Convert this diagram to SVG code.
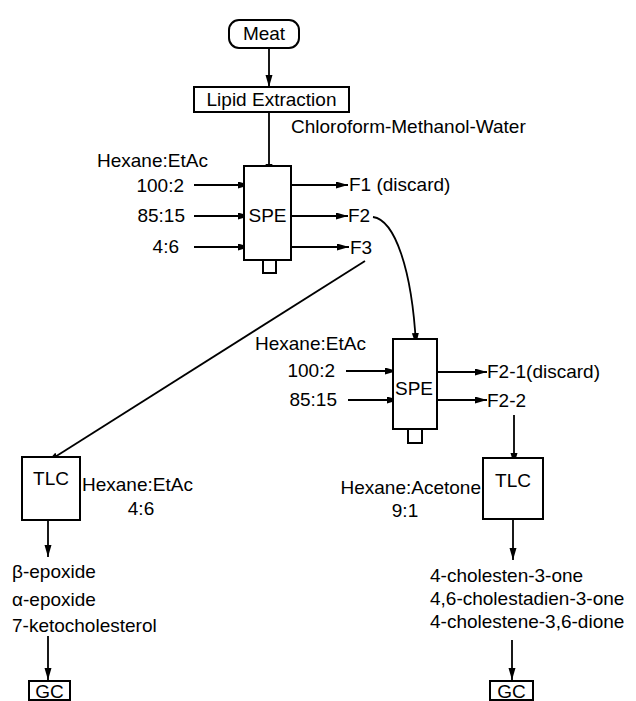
<svg xmlns="http://www.w3.org/2000/svg" width="636" height="701" viewBox="0 0 636 701">
<defs>
<marker id="ah" markerUnits="userSpaceOnUse" markerWidth="13" markerHeight="8" refX="12" refY="3.5" orient="auto">
<path d="M0,0 L12,3.5 L0,7 z" fill="#000"/>
</marker>
<style>
text{font-family:"Liberation Sans",Arial,Helvetica,sans-serif;font-size:19px;fill:#000}
.m{text-anchor:middle}
.e{text-anchor:end}
.box{fill:#fff;stroke:#000;stroke-width:2}
.c{fill:none;stroke:#000;stroke-width:1.8;marker-end:url(#ah)}
</style>
</defs>
<rect width="636" height="701" fill="#fff"/>
<g id="connectors">
<line class="c" x1="269" y1="48" x2="269" y2="87"/>
<line class="c" x1="269" y1="112" x2="269" y2="176"/>
<line class="c" x1="194" y1="185" x2="250" y2="185"/>
<line class="c" x1="194" y1="216" x2="250" y2="216"/>
<line class="c" x1="194" y1="247" x2="250" y2="247"/>
<line class="c" x1="291" y1="185" x2="348" y2="185"/>
<line class="c" x1="291" y1="216" x2="348" y2="216"/>
<line class="c" x1="291" y1="247" x2="349" y2="247"/>
<path class="c" d="M373,217 C395,220 412,270 416,345"/>
<path class="c" d="M365,261 L47,462"/>
<line class="c" x1="346" y1="371" x2="397" y2="371"/>
<line class="c" x1="348" y1="400" x2="399" y2="400"/>
<line class="c" x1="437" y1="372" x2="487" y2="372"/>
<line class="c" x1="437" y1="400" x2="487" y2="400"/>
<line class="c" x1="514" y1="415" x2="514" y2="465"/>
<line class="c" x1="48" y1="520" x2="48" y2="557"/>
<line class="c" x1="48" y1="636" x2="48" y2="680"/>
<line class="c" x1="513" y1="519" x2="513" y2="560"/>
<line class="c" x1="512" y1="640" x2="512" y2="680"/>
</g>
<g id="meat">
<rect class="box" x="229" y="20" width="70" height="28" rx="10"/>
<text class="m" x="264" y="40">Meat</text>
</g>
<g id="lipid-extraction">
<rect class="box" x="194" y="87" width="155" height="25"/>
<text class="m" x="271.5" y="106">Lipid Extraction</text>
</g>
<g id="solvent-label">
<text x="291" y="133">Chloroform-Methanol-Water</text>
</g>
<g id="spe1">
<rect class="box" x="244" y="166" width="47" height="94"/>
<rect class="box" x="263" y="260" width="13" height="13"/>
<text class="m" x="267.5" y="222">SPE</text>
</g>
<g id="spe1-inputs">
<text x="97" y="167">Hexane:EtAc</text>
<text class="e" x="184" y="192">100:2</text>
<text class="e" x="185" y="222">85:15</text>
<text class="e" x="179" y="253">4:6</text>
</g>
<g id="spe1-outputs">
<text x="349" y="191">F1 (discard)</text>
<text x="348" y="222">F2</text>
<text x="350" y="254">F3</text>
</g>
<g id="spe2">
<rect class="box" x="393" y="339" width="44" height="90"/>
<rect class="box" x="408" y="429" width="14" height="14"/>
<text class="m" x="414" y="395">SPE</text>
</g>
<g id="spe2-inputs">
<text x="255" y="350">Hexane:EtAc</text>
<text class="e" x="335" y="377">100:2</text>
<text class="e" x="337" y="406">85:15</text>
</g>
<g id="spe2-outputs">
<text x="487" y="378">F2-1(discard)</text>
<text x="487" y="407">F2-2</text>
</g>
<g id="tlc-left">
<rect class="box" x="22" y="457" width="58" height="63"/>
<text class="m" x="51" y="485">TLC</text>
<text x="82" y="491">Hexane:EtAc</text>
<text class="m" x="141" y="515">4:6</text>
</g>
<g id="products-left">
<text x="12" y="578">β-epoxide</text>
<text x="12" y="606">α-epoxide</text>
<text x="12" y="632">7-ketocholesterol</text>
</g>
<g id="gc-left">
<rect class="box" x="29" y="681" width="41" height="19"/>
<text class="m" x="49.5" y="698">GC</text>
</g>
<g id="tlc-right">
<rect class="box" x="483" y="458" width="60" height="61"/>
<text class="m" x="513" y="487">TLC</text>
<text class="e" x="481" y="494">Hexane:Acetone</text>
<text class="m" x="405" y="517">9:1</text>
</g>
<g id="products-right">
<text x="430" y="582">4-cholesten-3-one</text>
<text x="430" y="605">4,6-cholestadien-3-one</text>
<text x="430" y="628">4-cholestene-3,6-dione</text>
</g>
<g id="gc-right">
<rect class="box" x="490" y="681" width="43" height="19"/>
<text class="m" x="511.5" y="698">GC</text>
</g>
</svg>
